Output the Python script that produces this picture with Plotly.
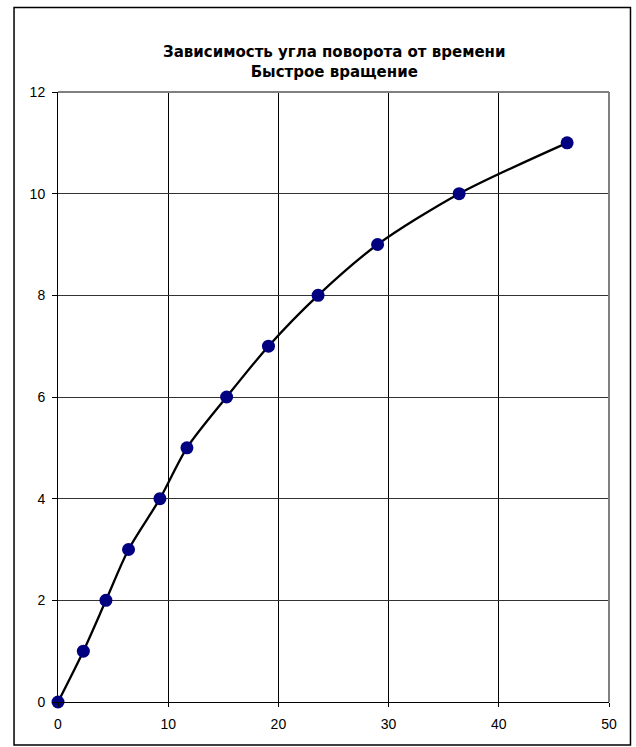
import plotly.graph_objects as go

time_s = [0, 2.3, 4.35, 6.4, 9.25, 11.7, 15.3, 19.1, 23.6, 29.0, 36.4, 46.2]
angle = [0, 1, 2, 3, 4, 5, 6, 7, 8, 9, 10, 11]
title_lines = ["Зависимость угла поворота от времени", "Быстрое вращение"]
x_ticks = [0, 10, 20, 30, 40, 50]
y_ticks = [0, 2, 4, 6, 8, 10, 12]

W, H = 636, 747
L, R, T, B = 58, 26.5, 91.5, 45
pw, ph = W - L - R, H - T - B

fig = go.Figure()
fig.add_trace(go.Scatter(
    x=time_s, y=angle, mode="lines+markers",
    line=dict(color="black", width=2.3, shape="spline", smoothing=0.8),
    marker=dict(color="#000080", size=13, line=dict(width=0)),
    cliponaxis=False, showlegend=False,
))

font = dict(family="Liberation Sans, Arial, sans-serif", size=14, color="black")
fig.update_layout(
    width=W, height=H,
    margin=dict(l=L, r=R, t=T, b=B),
    paper_bgcolor="white", plot_bgcolor="white",
    font=font,
    xaxis=dict(range=[0, 50], tickvals=x_ticks, showgrid=True, gridcolor="black",
               gridwidth=1, zeroline=False, showline=True, linecolor="black",
               linewidth=1, ticks="outside", ticklen=4, tickcolor="black",
               tickfont=font, ticklabelstandoff=5),
    yaxis=dict(range=[0, 12], tickvals=y_ticks, showgrid=True, gridcolor="#333333",
               gridwidth=1, zeroline=False, showline=True, linecolor="black",
               linewidth=1, ticks="outside", ticklen=5, tickcolor="black",
               tickfont=font, ticklabelstandoff=4),
)

# plot area border (gray top/right)
fig.add_shape(type="line", xref="paper", yref="paper", x0=0, x1=1, y0=1, y1=1,
              line=dict(color="#808080", width=2))
fig.add_shape(type="line", xref="paper", yref="paper", x0=1, x1=1, y0=0, y1=1,
              line=dict(color="#808080", width=2))

# outer chart border
fig.add_shape(type="rect", xref="paper", yref="paper",
              x0=(14 - L) / pw, x1=(631 - L) / pw,
              y0=(H - B - 745) / ph, y1=(H - B - 7) / ph,
              line=dict(color="black", width=1.5), layer="below")

fig.add_annotation(
    text="<b>" + title_lines[0] + "</b><br><b>" + title_lines[1] + "</b>",
    xref="paper", yref="paper", x=(334 - L) / pw, y=(H - B - 61.5) / ph,
    xanchor="center", yanchor="middle", showarrow=False,
    font=dict(family="DejaVu Sans, Verdana, sans-serif", size=15, color="black"),
)

fig.write_html("out.html", config={"displayModeBar": False},
               post_script="document.body.style.margin='0';")
